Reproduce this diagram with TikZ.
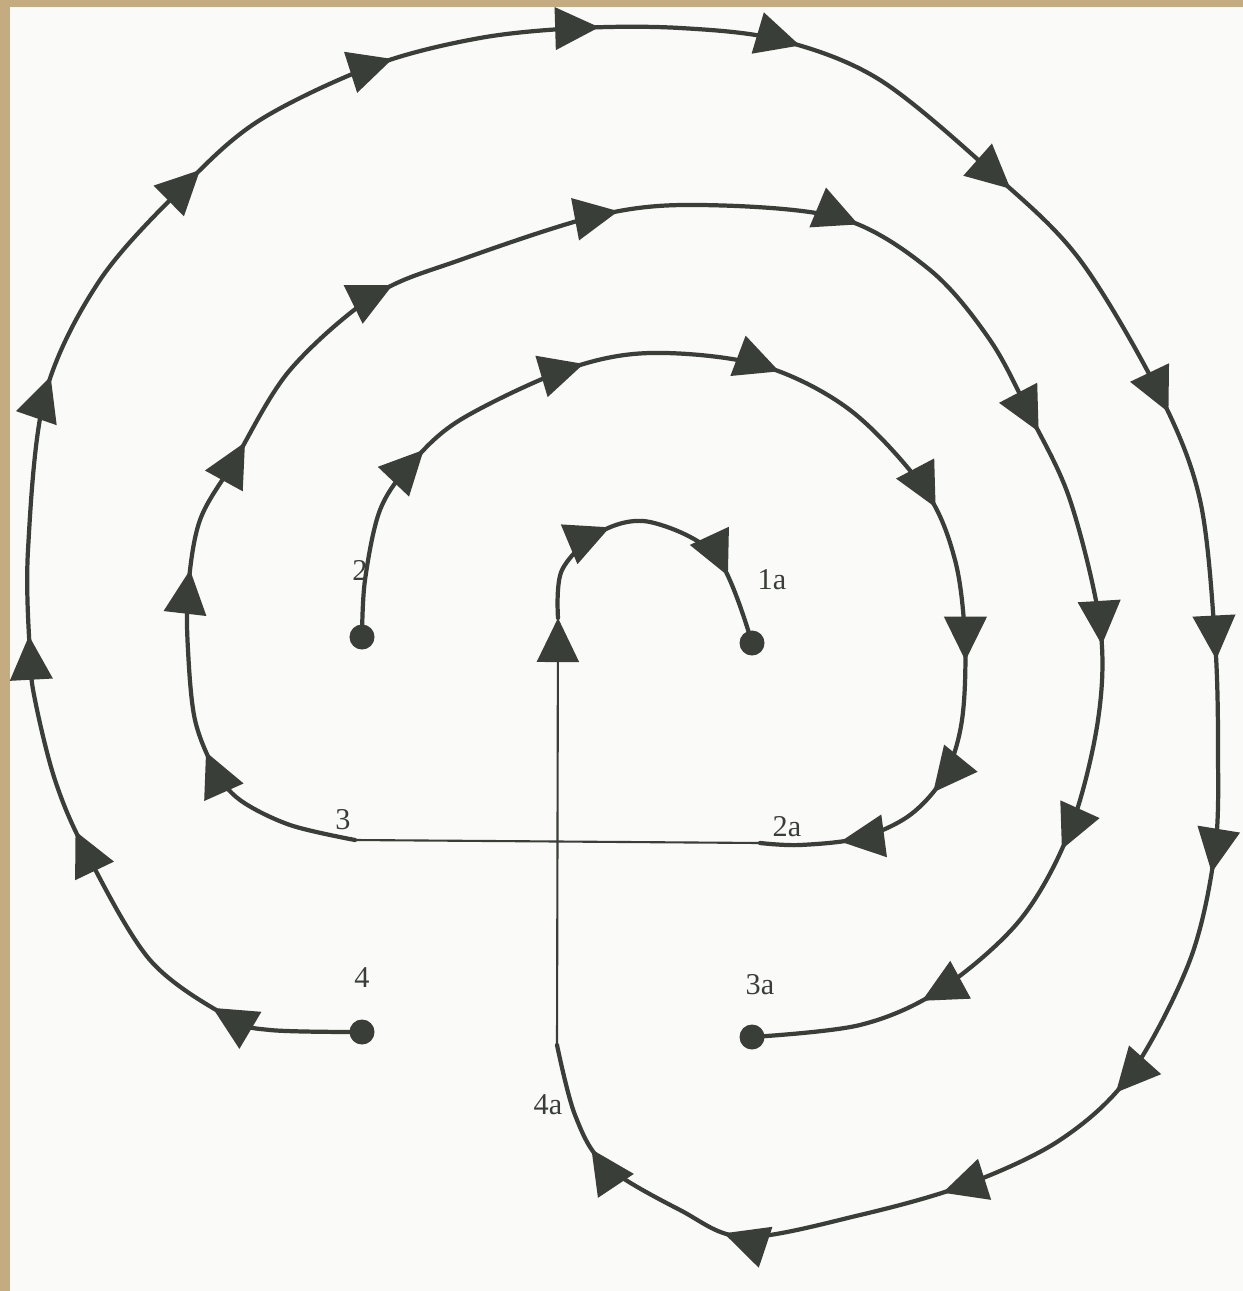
\documentclass[tikz,border=0pt]{standalone}
\usepackage{fontspec}
\setmainfont{Liberation Serif}
\usetikzlibrary{arrows.meta, decorations.markings}

\definecolor{ink}{RGB}{58,62,56}
\definecolor{frame}{RGB}{196,171,128}
\definecolor{paper}{RGB}{250,250,249}

% one arrow head at a given fraction of the path
\pgfkeys{/pgf/decoration/tipat/.style={mark=at position #1 with {\arrow{>}}}}

\begin{document}
\begin{tikzpicture}[
    x=0.01cm, y=-0.01cm,
    >={Triangle[length=4.4mm, width=4.2mm]},
    dot/.style={
        circle,
        fill=ink,
        inner sep=0pt,
        minimum size=2.5mm
    },
    lbl/.style={
        text=ink,
        inner sep=1pt,
        font=\fontsize{8.6}{10}\selectfont
    },
    flow/.style={
        ink,
        line width=1.2pt,
        line cap=round,
        postaction={decorate},
        decoration={markings, tipat/.list={#1}}
    },
    link/.style={ink, line width=0.6pt}
]

\fill[frame] (0,0) rectangle (1243,1291);
\fill[paper] (10,7) rectangle (1243,1291);
\useasboundingbox (0,0) rectangle (1243,1291);

% end points
\node[dot] (d2) at (362,637) {};
\node[dot] (d1a) at (752,643) {};
\node[dot] (d3a) at (752,1037) {};
\node[dot] (d4) at (362,1032) {};
\coordinate (e2a) at (760,843);
\coordinate (e3) at (355,840);
\coordinate (e4a) at (557,1045);
\coordinate (e1) at (558,618);

\node[lbl] (l1a) at (772,580) {1a};
\node[lbl] (l2) at (360,570) {2};
\node[lbl] (l2a) at (787,827) {2a};
\node[lbl] (l3) at (343,820) {3};
\node[lbl] (l3a) at (760,985) {3a};
\node[lbl] (l4) at (362,978) {4};
\node[lbl] (l4a) at (548,1105) {4a};

% straight links
\draw[link, ->] (e4a) -- (e1);
\draw[link] (e2a) -- (e3);

% inner hook
\draw[flow={0.35,0.78}] plot[smooth, tension=0.55] coordinates {
    (e1) (562,570) (600,532) (650,522) (717,557) (d1a.center)};

% 2 -> 2a
\draw[flow={0.159,0.302,0.457,0.622,0.745,0.853,0.937}]
    plot[smooth, tension=0.55] coordinates {
    (d2.center) (365,580) (380,510) (410,465) (460,420) (565,370)
    (650,353) (760,365) (850,410) (925,490) (955,560) (965,640)
    (962,720) (945,775) (910,815) (860,838) (800,845) (e2a)};

% 3 -> 3a
\draw[flow={0.079,0.159,0.220,0.315,0.418,0.523,0.645,0.742,0.833,0.924}]
    plot[smooth, tension=0.55] coordinates {
    (e3) (290,825) (240,800) (215,770) (195,720) (188,650) (188,590)
    (200,520) (235,460) (290,370) (375,295) (460,260) (600,215)
    (700,205) (840,218) (930,270) (990,340) (1030,415) (1070,500)
    (1100,625) (1098,720) (1070,830) (1020,920) (940,990) (860,1025)
    (d3a.center)};

% 4 -> 4a
\draw[flow={0.042,0.104,0.159,0.230,0.300,0.361,0.418,0.473,0.543,0.618,0.687,0.745,0.811,0.866,0.927,0.970}]
    plot[smooth, tension=0.55] coordinates {
    (d4.center) (270,1030) (230,1018) (150,960) (85,850) (55,780)
    (35,700) (30,655) (28,550) (45,395) (100,280) (185,185) (260,120)
    (375,65) (480,38) (580,28) (680,28) (780,40) (880,80) (995,175)
    (1080,260) (1160,395) (1200,500) (1215,640) (1218,750) (1215,850)
    (1190,960) (1130,1075) (1060,1140) (965,1185) (860,1215) (745,1237)
    (680,1210) (605,1165) (575,1115) (e4a)};

\end{tikzpicture}
\end{document}
